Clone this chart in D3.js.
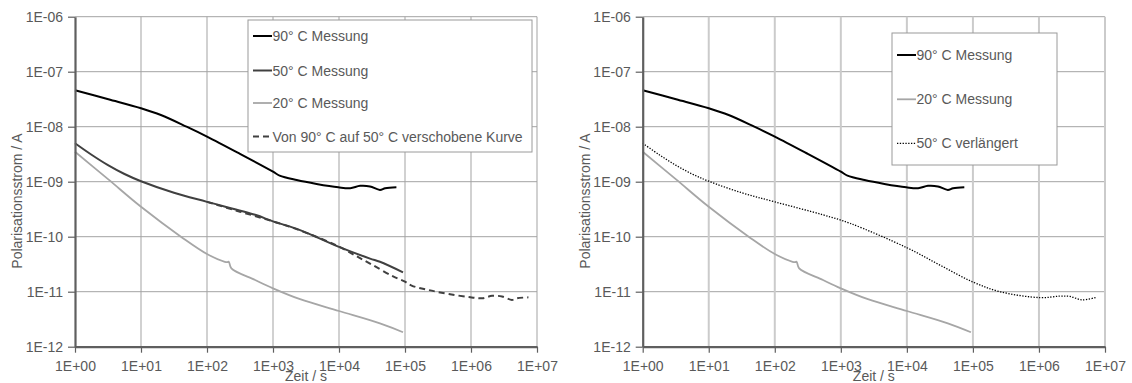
<!DOCTYPE html>
<html>
<head>
<meta charset="utf-8">
<script src="https://cdn.jsdelivr.net/npm/d3@7"></script>
<style>
    body { margin: 0; background: #fff; }
    svg text { font-family: "Liberation Sans", Arial, sans-serif; fill: #595959; }
</style>
</head>
<body>
<div id="chart-area"></div>
<script>
//1. Data
var xTickValues = [1, 10, 100, 1000, 10000, 100000, 1000000, 10000000];
var xTickLabels = ["1E+00", "1E+01", "1E+02", "1E+03", "1E+04", "1E+05", "1E+06", "1E+07"];
var yTickValues = [1e-12, 1e-11, 1e-10, 1e-9, 1e-8, 1e-7, 1e-6];
var yTickLabels = ["1E-12", "1E-11", "1E-10", "1E-09", "1E-08", "1E-07", "1E-06"];

// 90° C Messung
var t90 = [1, 3.2, 10, 20, 49, 100, 316, 1000, 1260, 2290, 4570, 9770, 14800, 20900, 29500, 41700, 50100, 74100];
var i90 = [4.6e-8, 3.15e-8, 2.16e-8, 1.63e-8, 1.0e-8, 6.6e-9, 3.2e-9, 1.52e-9, 1.29e-9, 1.07e-9, 9.1e-10, 7.9e-10, 7.6e-10, 8.4e-10, 8.2e-10, 7.1e-10, 7.6e-10, 7.9e-10];

// 50° C Messung
var t50 = [1, 1.78, 3.16, 5.62, 10, 31.6, 100, 537, 1000, 2570, 9770, 29500, 41700, 93300];
var i50 = [5.0e-9, 3.09e-9, 2.0e-9, 1.38e-9, 1.02e-9, 6.3e-10, 4.3e-10, 2.5e-10, 1.9e-10, 1.32e-10, 6.6e-11, 4.0e-11, 3.5e-11, 2.25e-11];

// 20° C Messung
var t20 = [1, 3.2, 10, 41.7, 100, 186, 204, 214, 234, 537, 1000, 2570, 10000, 41700, 93300];
var i20 = [3.5e-9, 1.1e-9, 3.5e-10, 9.7e-11, 4.84e-11, 3.5e-11, 3.45e-11, 3.5e-11, 2.66e-11, 1.63e-11, 1.15e-11, 7.3e-12, 4.46e-12, 2.66e-12, 1.83e-12];

// Von 90° C auf 50° C verschobene Kurve
var tShift = [100, 316, 1000, 2000, 4900, 10000, 18600, 31600, 66000, 100000, 126000, 229000, 457000, 977000, 1480000, 2090000, 2950000, 4170000, 5010000, 7410000];
var iShift = [4.3e-10, 2.85e-10, 1.9e-10, 1.45e-10, 9.6e-11, 6.6e-11, 4.4e-11, 3.1e-11, 1.9e-11, 1.52e-11, 1.29e-11, 1.07e-11, 9.1e-12, 7.9e-12, 7.6e-12, 8.4e-12, 8.2e-12, 7.1e-12, 7.6e-12, 7.9e-12];

// 50° C verlängert
var tExt = [1, 1.78, 3.16, 5.62, 10, 31.6, 100, 537, 1380, 10000, 31600, 100000, 257000, 1050000, 2090000, 2950000, 4470000, 7410000];
var iExt = [5.0e-9, 3.09e-9, 2.0e-9, 1.38e-9, 1.02e-9, 6.3e-10, 4.3e-10, 2.5e-10, 1.75e-10, 6.3e-11, 3.05e-11, 1.5e-11, 1.0e-11, 7.8e-12, 8.3e-12, 8.2e-12, 7.1e-12, 7.9e-12];

//2. Canvas
var svg_width = 1132;
var svg_height = 383;
var svg = d3.select("#chart-area").append("svg")
    .attr("width", svg_width)
    .attr("height", svg_height);

var panels = [
    {
        left: 75, width: 462, titleX: 22, vGrid: { color: "#a3a3a3", width: 1 },
        series: [
            { t: t90, i: i90, color: "#000000", width: 2, dash: null },
            { t: t50, i: i50, color: "#404040", width: 2, dash: null },
            { t: t20, i: i20, color: "#a6a6a6", width: 1.8, dash: null },
            { t: tShift, i: iShift, color: "#404040", width: 2, dash: "6,4" }
        ],
        legend: {
            x: 248, y: 20, w: 284, h: 132, rowY: [36, 70.5, 103, 136.5],
            names: ["90° C Messung", "50° C Messung", "20° C Messung", "Von 90° C auf 50° C verschobene Kurve"]
        }
    },
    {
        left: 642.7, width: 462.3, titleX: 590, vGrid: { color: "#cbcbcb", width: 2 },
        series: [
            { t: t90, i: i90, color: "#000000", width: 2, dash: null },
            { t: t20, i: i20, color: "#a6a6a6", width: 1.8, dash: null },
            { t: tExt, i: iExt, color: "#000000", width: 1.3, dash: "1.3,1.5" }
        ],
        legend: {
            x: 892, y: 33, w: 165, h: 132, rowY: [55, 99.3, 143.3],
            names: ["90° C Messung", "20° C Messung", "50° C verlängert"]
        }
    }
];

var top_y = 16.7;
var bottom_y = 346.7;

panels.forEach(function (p) {
    var g = svg.append("g").attr("class", "panel");

    //3. Scales
    var x_scaling = d3.scaleLog().domain([1, 1e7]).range([p.left, p.left + p.width]);
    var y_scaling = d3.scaleLog().domain([1e-12, 1e-6]).range([bottom_y, top_y]);

    //4. Grid lines
    g.append("g").selectAll("line.hgrid")
        .data(yTickValues.slice(1))
        .enter().append("line")
        .attr("x1", p.left).attr("x2", p.left + p.width)
        .attr("y1", function (d) { return y_scaling(d); })
        .attr("y2", function (d) { return y_scaling(d); })
        .attr("stroke", "#a3a3a3").attr("stroke-width", 1);

    g.append("g").selectAll("line.vgrid")
        .data(xTickValues.slice(1))
        .enter().append("line")
        .attr("y1", top_y).attr("y2", bottom_y)
        .attr("x1", function (d) { return x_scaling(d); })
        .attr("x2", function (d) { return x_scaling(d); })
        .attr("stroke", p.vGrid.color).attr("stroke-width", p.vGrid.width);

    //5. Curves
    var line = d3.line()
        .x(function (d) { return x_scaling(d[0]); })
        .y(function (d) { return y_scaling(d[1]); })
        .curve(d3.curveCatmullRom);

    p.series.forEach(function (s) {
        g.append("path")
            .attr("d", line(d3.zip(s.t, s.i)))
            .attr("fill", "none")
            .attr("stroke", s.color)
            .attr("stroke-width", s.width)
            .attr("stroke-dasharray", s.dash);
    });

    //6. Axes
    var x_axis_call = d3.axisBottom(x_scaling)
        .tickValues(xTickValues)
        .tickFormat(function (d, i) { return xTickLabels[i]; })
        .tickSizeInner(6).tickSizeOuter(0).tickPadding(5);
    var y_axis_call = d3.axisLeft(y_scaling)
        .tickValues(yTickValues)
        .tickFormat(function (d, i) { return yTickLabels[i]; })
        .tickSizeInner(7).tickSizeOuter(0).tickPadding(5);

    var xa = g.append("g")
        .attr("transform", "translate(0," + bottom_y + ")")
        .call(x_axis_call);
    var ya = g.append("g")
        .attr("transform", "translate(" + p.left + ",0)")
        .call(y_axis_call);

    [xa, ya].forEach(function (a) {
        a.select(".domain").attr("stroke", "#5f5f5f").attr("stroke-width", 2.2);
        a.selectAll(".tick line").attr("stroke", "#5f5f5f").attr("stroke-width", 1.2);
        a.selectAll(".tick text").attr("font-size", "14px").attr("fill", "#595959")
            .attr("font-family", "Liberation Sans, Arial, sans-serif");
    });
    xa.selectAll(".tick text").attr("dy", "0.95em");

    //7. Axis labels
    g.append("text")
        .attr("x", p.left + p.width / 2)
        .attr("y", 381)
        .attr("font-size", "14px")
        .attr("text-anchor", "middle")
        .text("Zeit / s");

    g.append("text")
        .attr("transform", "translate(" + p.titleX + ",201) rotate(-90)")
        .attr("font-size", "14px")
        .attr("text-anchor", "middle")
        .text("Polarisationsstrom / A");

    //8. Legend
    var L = p.legend;
    var legend = g.append("g").attr("class", "Legend_Holder");
    legend.append("rect")
        .attr("x", L.x).attr("y", L.y)
        .attr("width", L.w).attr("height", L.h)
        .attr("fill", "#ffffff").attr("stroke", "#9a9a9a").attr("stroke-width", 1);

    p.series.forEach(function (s, k) {
        var row = legend.append("g")
            .attr("transform", "translate(" + (L.x + 5) + "," + L.rowY[k] + ")");
        row.append("line")
            .attr("x1", 0).attr("x2", 19)
            .attr("stroke", s.color)
            .attr("stroke-width", s.width)
            .attr("stroke-dasharray", s.dash);
        row.append("text")
            .attr("x", 19.5).attr("y", 5)
            .attr("font-size", "14px")
            .text(L.names[k]);
    });
});
</script>
</body>
</html>
